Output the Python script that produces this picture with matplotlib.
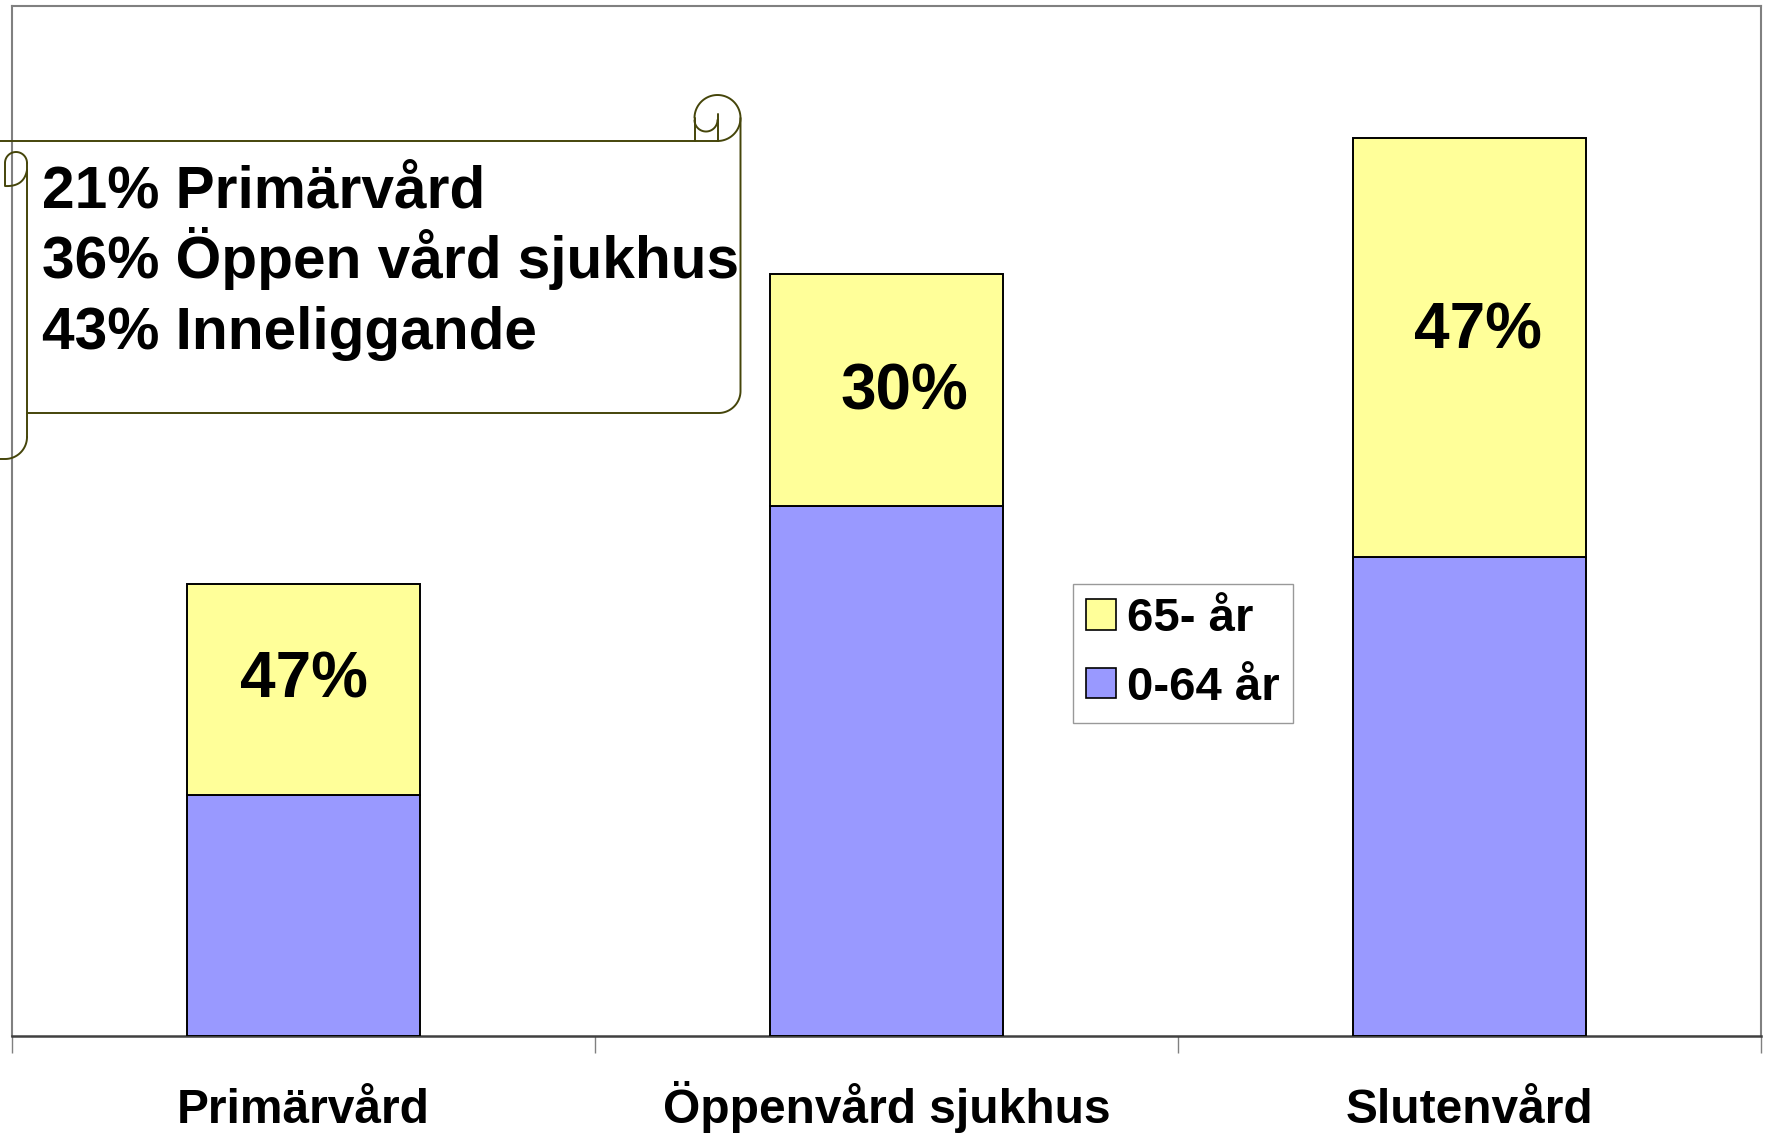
import numpy as np
import matplotlib
matplotlib.use("Agg")
import matplotlib.pyplot as plt
import matplotlib.transforms as mtransforms
from matplotlib.patches import Patch

plt.rcParams['font.family'] = ['Liberation Sans', 'DejaVu Sans']

# ## Data ##
categories = ["Primärvård", "Öppenvård sjukhus", "Slutenvård"]
age_0_64 = [11.4, 25.1, 22.7]
age_65_plus = [10.0, 11.0, 19.8]
share_65_labels = ["47%", "30%", "47%"]
scroll_lines = ["21% Primärvård", "36% Öppen vård sjukhus", "43% Inneliggande"]

YELLOW = "#FFFF99"
BLUE = "#9999FF"
GREY = "#808080"
OLIVE = "#45450a"

W, H = 1767, 1134
fig = plt.figure(figsize=(W / 100, H / 100), dpi=100)
ax = fig.add_axes([12 / W, 98 / H, (1761 - 12) / W, (1036 - 6) / H])

x = np.arange(len(categories))
ax.bar(x, age_0_64, width=0.4, color=BLUE, edgecolor="black", linewidth=1.4, zorder=3)
ax.bar(x, age_65_plus, width=0.4, bottom=age_0_64, color=YELLOW,
       edgecolor="black", linewidth=1.4, zorder=3)

# percentage labels inside the yellow segments
label_shift = [0.0, 0.03, 0.015]
label_lift = [0.45, -0.15, 0.75]
for i, txt in enumerate(share_65_labels):
    ax.text(i + label_shift[i], age_0_64[i] + age_65_plus[i] / 2 + label_lift[i], txt,
            ha="center", va="center", fontsize=46, fontweight="bold", zorder=4)

ax.set_xlim(-0.5, len(categories) - 0.5)
ax.set_ylim(0, 48.77)
ax.set_yticks([])

# category names sit on a common baseline below the axis
ax.set_xticks([])
ax.set_xticks(np.arange(-0.5, len(categories)), minor=True)
ax.tick_params(axis="x", which="minor", length=12, width=1, color=GREY, direction="out")
label_trans = mtransforms.blended_transform_factory(ax.transData, fig.transFigure)
for i, name in enumerate(categories):
    ax.text(i, 1 - 1123 / H, name, transform=label_trans, ha="center", va="baseline",
            fontsize=34.5, fontweight="bold", clip_on=False)

for side in ["top", "right", "left"]:
    ax.spines[side].set_color(GREY)
    ax.spines[side].set_linewidth(1.5)
ax.spines["bottom"].set_color("#404040")
ax.spines["bottom"].set_linewidth(1.8)

handles = [Patch(facecolor=YELLOW, edgecolor="black", linewidth=1.2),
           Patch(facecolor=BLUE, edgecolor="black", linewidth=1.2)]
leg = ax.legend(handles, ["65- år", "0-64 år"], loc="upper left",
                bbox_to_anchor=(1073 / W, 1 - 584 / H), bbox_transform=fig.transFigure,
                prop={"size": 34, "weight": "bold"}, frameon=True, fancybox=False,
                edgecolor=GREY, borderpad=0.28, labelspacing=0.52,
                handlelength=0.62, handleheight=0.62, handletextpad=0.25,
                borderaxespad=0)
leg.get_frame().set_linewidth(1.0)

# ## Scroll callout, drawn in figure pixel coordinates ##
ov = fig.add_axes([0, 0, 1, 1], zorder=5)
ov.set_xlim(0, W)
ov.set_ylim(H, 0)
ov.axis("off")
ov.patch.set_alpha(0)


def arc(cx, cy, r, t0, t1, n=60):
    t = np.radians(np.linspace(t0, t1, n))
    return cx + r * np.cos(t), cy - r * np.sin(t)


def draw(xs, ys):
    ov.plot(xs, ys, color=OLIVE, linewidth=1.4, solid_capstyle="round")


draw([0, 717.5], [141, 141])
draw(*arc(717.5, 118, 23, 180, -90))
draw([694.5, 694.5], [118, 141])
draw(*arc(706, 120, 11.5, 180, 360))
draw([717.5, 717.5], [114, 141])
cx, cy = arc(718.5, 391, 22, 0, -90)
draw(np.r_[740.5, 740.5, cx, 27], np.r_[118, 391, cy, 413])
draw([27, 27], [163, 437])
bx, by = arc(5, 437, 22, 0, -90)
draw(np.r_[bx, 0], np.r_[by, 459])
tx, ty = arc(16, 163, 11, 0, 180)
s = np.linspace(0, 1, 30)
qx = (1 - s) ** 2 * 5 + 2 * (1 - s) * s * 24 + s ** 2 * 27
qy = (1 - s) ** 2 * 186 + 2 * (1 - s) * s * 187 + s ** 2 * 170
draw(np.r_[tx, 5, qx], np.r_[ty, 186, qy])

for i, line in enumerate(scroll_lines):
    ov.text(42, 208 + 70.5 * i, line, ha="left", va="baseline",
            fontsize=42.2, fontweight="bold")

fig.savefig("out.png", dpi=100)
